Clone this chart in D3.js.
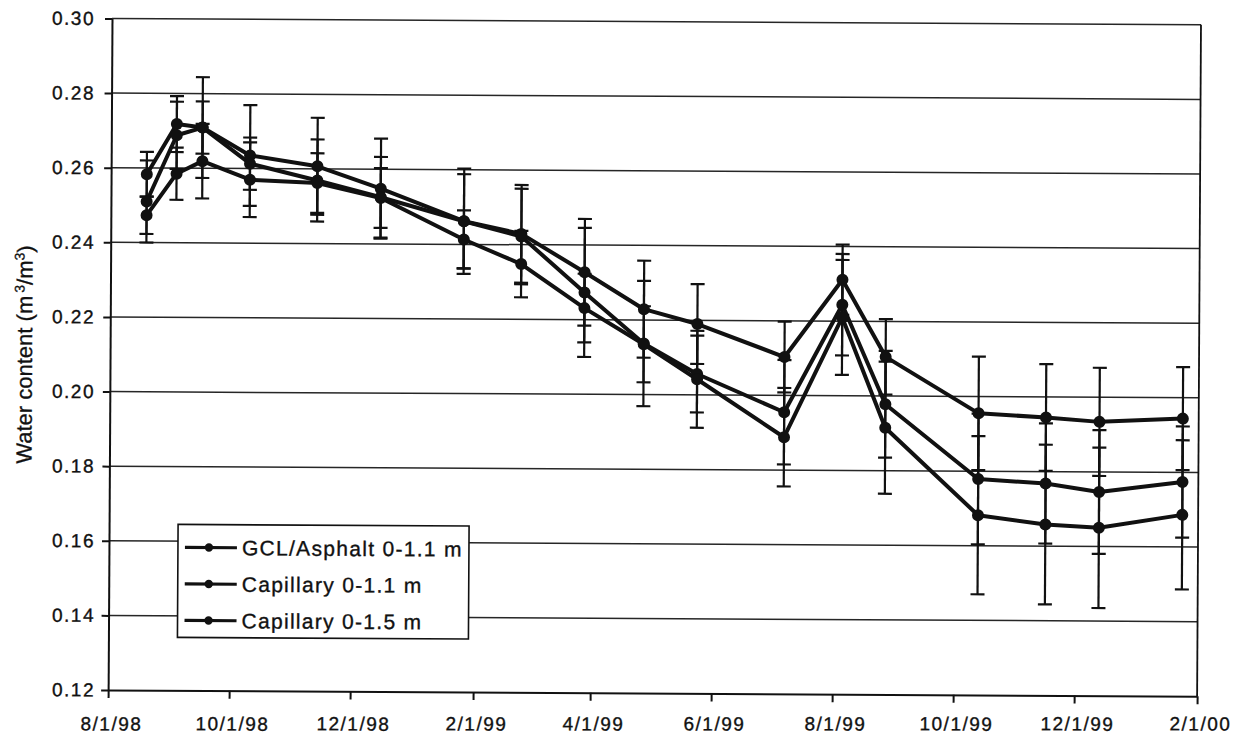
<!DOCTYPE html>
<html lang="en">
<head>
<meta charset="UTF-8">
<title>Water content</title>
<script src="https://d3js.org/d3.v7.min.js"></script>
<style>
  body { margin: 0; background: #fff; }
  svg { display: block; background: #fff; }
  .axis text { font-family: "Liberation Sans", Arial, sans-serif; font-size: 19px; letter-spacing: 1.5px; fill: #111; stroke: #111; stroke-width: 0.35px; }
  .axis path, .axis line { stroke: #111; stroke-width: 2px; }
  .grid line { stroke: #262626; stroke-width: 1.5px; }
  .frame { stroke: #111; stroke-width: 1.8px; }
  .series { fill: none; stroke: #111; stroke-width: 4px; stroke-linejoin: round; }
  .err { stroke: #111; stroke-width: 2.2px; }
  .dot { fill: #111; }
  .legend text { font-family: "Liberation Sans", Arial, sans-serif; font-size: 21px; letter-spacing: 1.3px; fill: #111; stroke: #111; stroke-width: 0.35px; }
  .ytitle { font-family: "Liberation Sans", Arial, sans-serif; font-size: 22px; fill: #111; stroke: #111; stroke-width: 0.3px; }
</style>
</head>
<body>
<svg width="1241" height="744"></svg>
<script>
  // sampling dates
  const dates = ["1998-08-19","1998-09-03","1998-09-16","1998-10-10","1998-11-13","1998-12-15",
                 "1999-01-26","1999-02-24","1999-03-28","1999-04-27","1999-05-24","1999-07-07",
                 "1999-08-05","1999-08-27","1999-10-13","1999-11-16","1999-12-13","2000-01-24"];

  const seriesNames = ["GCL/Asphalt 0-1.1 m", "Capillary 0-1.1 m", "Capillary 0-1.5 m"];

  // mean water content
  const gclAsphalt11 = [0.2583,0.2718,0.2709,0.2635,0.2607,0.2548,0.2462,0.2429,0.2327,0.2229,0.2190,0.2103,
                        0.2311,0.2105,0.1955,0.1945,0.1934,0.1944];
  const capillary11  = [0.2510,0.2688,0.2709,0.2613,0.2569,0.2525,0.2462,0.2422,0.2273,0.2137,0.2056,0.1955,
                        0.2244,0.1978,0.1779,0.1768,0.1746,0.1774];
  const capillary15  = [0.2473,0.2585,0.2619,0.2570,0.2562,0.2523,0.2413,0.2348,0.2231,0.2135,0.2042,0.1888,
                        0.2210,0.1915,0.1682,0.1658,0.1650,0.1686];

  // error bar half widths
  const gclAsphalt11Err = [0.0060,0.0075,0.0135,0.0135,0.0130,0.0134,0.0141,0.0131,0.0143,0.0130,0.0107,0.0095,
                           0.0094,0.0101,0.0152,0.0143,0.0145,0.0138];
  const capillary11Err  = [0.0110,0.0090,0.0070,0.0070,0.0110,0.0108,0.0126,0.0128,0.0173,0.0168,0.0103,0.0140,
                           0.0136,0.0143,0.0175,0.0161,0.0166,0.0149];
  const capillary15Err  = [0.0050,0.0070,0.0100,0.0100,0.0080,0.0080,0.0078,0.0089,0.0092,0.0102,0.0130,0.0132,
                           0.0154,0.0177,0.0212,0.0214,0.0215,0.0200];

  const xTickLabels = ["8/1/98","10/1/98","12/1/98","2/1/99","4/1/99","6/1/99","8/1/99","10/1/99","12/1/99","2/1/00"];
  const yTicks = [0.12,0.14,0.16,0.18,0.20,0.22,0.24,0.26,0.28,0.30];

  const parseIso  = d3.timeParse("%Y-%m-%d"),
        parseTick = d3.timeParse("%m/%d/%y"),
        fmtTick   = d3.timeFormat("%-m/%-d/%y");

  const svg    = d3.select("svg"),
        margin = { left: 112, top: 18.5 },
        width  = 1089,
        height = 671.5;

  // the scanned figure sits a little skewed on the page
  const skew = 0.33, skewTan = Math.tan(skew * Math.PI / 180);
  const root = svg.append("g").attr("transform", `rotate(${skew} ${margin.left} ${margin.top})`);
  const g = root.append("g").attr("transform", `translate(${margin.left},${margin.top})`);

  const tickDates = xTickLabels.map(parseTick);
  const x = d3.scaleTime().domain([tickDates[0], tickDates[tickDates.length - 1]]).range([0, width]);
  const y = d3.scaleLinear().domain([0.12, 0.30]).range([height, 0]);

  const series = [gclAsphalt11, capillary11, capillary15].map((vals, i) => ({
    name: seriesNames[i],
    points: vals.map((v, j) => ({
      date: parseIso(dates[j]),
      value: v,
      err: [gclAsphalt11Err, capillary11Err, capillary15Err][i][j]
    }))
  }));

  // grid
  g.append("g").attr("class", "grid")
    .selectAll("line").data(yTicks.slice(1)).join("line")
      .attr("x1", 0).attr("x2", width)
      .attr("y1", d => y(d)).attr("y2", d => y(d));

  g.append("line").attr("class", "frame")
    .attr("x1", width).attr("x2", width).attr("y1", 0).attr("y2", height);

  // axes (labels kept level, only the frame is skewed)
  g.append("g").attr("class", "axis")
    .call(d3.axisLeft(y).tickValues(yTicks).tickFormat(d3.format(".2f"))
      .tickSize(7).tickSizeOuter(0).tickPadding(10))
    .selectAll(".tick text")
      .attr("transform", d => `translate(${y(d) * skewTan},0)`);

  g.append("g").attr("class", "axis")
    .attr("transform", `translate(0,${height})`)
    .call(d3.axisBottom(x).tickValues(tickDates).tickFormat(fmtTick)
      .tickSize(8).tickSizeOuter(0).tickPadding(19))
    .selectAll(".tick text")
      .attr("transform", d => `translate(3,${-x(d) * skewTan})`);

  // error bars
  const allPts = series.flatMap(s => s.points);
  const eb = g.append("g");
  eb.selectAll("line.v").data(allPts).join("line")
    .attr("class", "err v")
    .attr("x1", d => x(d.date)).attr("x2", d => x(d.date))
    .attr("y1", d => y(d.value + d.err)).attr("y2", d => y(d.value - d.err));
  eb.selectAll("line.top").data(allPts).join("line")
    .attr("class", "err top")
    .attr("x1", d => x(d.date) - 7).attr("x2", d => x(d.date) + 7)
    .attr("y1", d => y(d.value + d.err)).attr("y2", d => y(d.value + d.err));
  eb.selectAll("line.bot").data(allPts).join("line")
    .attr("class", "err bot")
    .attr("x1", d => x(d.date) - 7).attr("x2", d => x(d.date) + 7)
    .attr("y1", d => y(d.value - d.err)).attr("y2", d => y(d.value - d.err));

  // lines + markers
  const line = d3.line().x(d => x(d.date)).y(d => y(d.value));
  g.selectAll("path.series").data(series).join("path")
    .attr("class", "series")
    .attr("d", d => line(d.points));
  g.selectAll("circle.dot").data(allPts).join("circle")
    .attr("class", "dot")
    .attr("cx", d => x(d.date)).attr("cy", d => y(d.value)).attr("r", 6);

  // legend
  const lg = root.append("g").attr("class", "legend").attr("transform", "translate(181,524)");
  lg.append("rect").attr("width", 291).attr("height", 113)
    .attr("fill", "#fff").attr("stroke", "#111").attr("stroke-width", 1.6);
  const item = lg.selectAll("g.item").data(seriesNames).join("g")
    .attr("class", "item")
    .attr("transform", (d, i) => `translate(0,${23 + i * 36.5})`);
  item.append("line").attr("x1", 7).attr("x2", 59).attr("y1", 0).attr("y2", 0)
    .attr("stroke", "#111").attr("stroke-width", 3.2);
  item.append("circle").attr("cx", 31).attr("cy", 0).attr("r", 4.2).attr("fill", "#111");
  item.append("text").attr("x", 64).attr("y", 7.5).text(d => d);

  // y axis title
  const yt = root.append("text").attr("class", "ytitle")
    .attr("text-anchor", "middle")
    .attr("transform", "translate(34,355) rotate(-90)");
  yt.append("tspan").text("Water content (m");
  yt.append("tspan").attr("dx", 3).attr("dy", -8).attr("font-size", 14).text("3");
  yt.append("tspan").attr("dy", 8).text("/m");
  yt.append("tspan").attr("dy", -8).attr("font-size", 14).text("3");
  yt.append("tspan").attr("dy", 8).text(")");
</script>
</body>
</html>
